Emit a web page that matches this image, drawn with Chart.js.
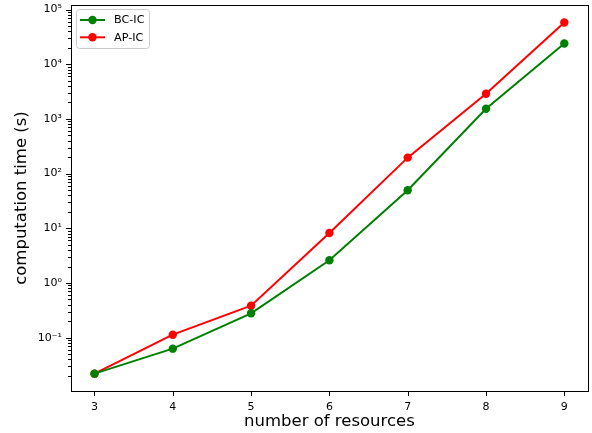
<!DOCTYPE html>
<html>
<head>
<meta charset="utf-8">
<script src="https://cdn.jsdelivr.net/npm/chart.js@4"></script>
<style>
    html, body { margin: 0; padding: 0; background: #fff; }
    #wrap { width: 592px; height: 433px; }
</style>
</head>
<body>
<div id="wrap"><canvas id="timeChart"></canvas></div>
<script>
// Computation time vs number of resources (log scale)

const resources = [3, 4, 5, 6, 7, 8, 9];
const bcIcTimes = [0.022, 0.063, 0.279, 2.6, 49.5, 1530, 23900];
const apIcTimes = [0.022, 0.1135, 0.385, 8.2, 196, 2880, 58000];

const xTicks = [3, 4, 5, 6, 7, 8, 9];
const yTicks = [0.1, 1, 10, 100, 1000, 10000, 100000];
const yTickLabels = ['10\u207B\u00B9', '10\u2070', '10\u00B9', '10\u00B2', '10\u00B3', '10\u2074', '10\u2075'];

const FONT = "'DejaVu Sans', sans-serif";

// frame, tick marks and legend drawn the matplotlib way
const framePlugin = {
    id: 'frame',
    afterDraw(chart) {
        const ctx = chart.ctx;
        const area = chart.chartArea;
        const xs = chart.scales.x;
        const ys = chart.scales.y;
        ctx.save();
        ctx.strokeStyle = '#000';
        ctx.lineWidth = 1;

        // major x ticks
        xTicks.forEach(v => {
            const px = Math.round(xs.getPixelForValue(v)) + 0.5;
            ctx.beginPath();
            ctx.moveTo(px, area.bottom);
            ctx.lineTo(px, area.bottom + 5);
            ctx.stroke();
        });

        // major + minor y ticks
        for (let e = -2; e <= 5; e++) {
            for (let k = 1; k <= 9; k++) {
                const v = k * Math.pow(10, e);
                if (v < ys.min || v > ys.max) continue;
                const py = Math.round(ys.getPixelForValue(v)) + 0.5;
                ctx.beginPath();
                ctx.moveTo(area.left, py);
                ctx.lineTo(area.left - (k === 1 ? 5 : 3), py);
                ctx.stroke();
            }
        }

        // frame
        ctx.strokeRect(Math.round(area.left) + 0.5, Math.round(area.top) + 0.5,
            Math.round(area.right - area.left), Math.round(area.bottom - area.top));

        // legend box
        const lx = area.left + 5.5, ly = area.top + 4.5, lw = 73, lh = 39;
        ctx.fillStyle = 'rgba(255,255,255,0.8)';
        ctx.strokeStyle = '#cccccc';
        ctx.beginPath();
        ctx.roundRect(lx, ly, lw, lh, 3);
        ctx.fill();
        ctx.stroke();

        chart.data.datasets.forEach((ds, i) => {
            const cy = ly + 10.5 + i * 17.3;
            ctx.strokeStyle = ds.borderColor;
            ctx.lineWidth = 2;
            ctx.beginPath();
            ctx.moveTo(lx + 3.5, cy);
            ctx.lineTo(lx + 28.5, cy);
            ctx.stroke();
            ctx.fillStyle = ds.borderColor;
            ctx.beginPath();
            ctx.arc(lx + 16, cy, 4.2, 0, Math.PI * 2);
            ctx.fill();
            ctx.fillStyle = '#000';
            ctx.font = '11.2px ' + FONT;
            ctx.textBaseline = 'middle';
            ctx.fillText(ds.label, lx + 37.5, cy + 0.5);
        });
        ctx.restore();
    }
};

function createTimeChart() {
    const ctx = document.getElementById('timeChart');
    if (!ctx) return;

    new Chart(ctx, {
        type: 'line',
        data: {
            datasets: [
                {
                    label: 'BC-IC',
                    data: resources.map((r, i) => ({ x: r, y: bcIcTimes[i] })),
                    borderColor: '#008000',
                    backgroundColor: '#008000',
                    borderWidth: 2,
                    pointRadius: 4.2,
                    pointBorderWidth: 0,
                    tension: 0
                },
                {
                    label: 'AP-IC',
                    data: resources.map((r, i) => ({ x: r, y: apIcTimes[i] })),
                    borderColor: '#ff0000',
                    backgroundColor: '#ff0000',
                    borderWidth: 2,
                    pointRadius: 4.2,
                    pointBorderWidth: 0,
                    tension: 0
                }
            ]
        },
        options: {
            responsive: true,
            maintainAspectRatio: false,
            animation: false,
            layout: { padding: { left: 0, right: 3, top: 5, bottom: 0 } },
            plugins: {
                legend: { display: false },
                tooltip: { enabled: false }
            },
            scales: {
                x: {
                    type: 'linear',
                    min: 2.7,
                    max: 9.3,
                    afterBuildTicks: (axis) => { axis.ticks = xTicks.map(v => ({ value: v })); },
                    afterFit: (axis) => { axis.height = 42; axis.paddingLeft = 0; axis.paddingRight = 0; },
                    grid: { display: false, drawTicks: false },
                    border: { display: false },
                    ticks: {
                        padding: 10,
                        color: '#000',
                        font: { family: FONT, size: 11 },
                        maxRotation: 0,
                        callback: (v) => String(v)
                    },
                    title: {
                        display: true,
                        text: 'number of resources',
                        color: '#000',
                        font: { family: FONT, size: 16.5 },
                        padding: { top: 2, bottom: 1 }
                    }
                },
                y: {
                    type: 'logarithmic',
                    min: 0.0106,
                    max: 121000,
                    afterBuildTicks: (axis) => { axis.ticks = yTicks.map(v => ({ value: v })); },
                    afterFit: (axis) => { axis.width = 71; axis.paddingTop = 0; axis.paddingBottom = 0; },
                    grid: { display: false, drawTicks: false },
                    border: { display: false },
                    ticks: {
                        padding: 9,
                        color: '#000',
                        font: { family: FONT, size: 11 },
                        callback: (v) => {
                            const i = yTicks.indexOf(v);
                            return i >= 0 ? yTickLabels[i] : '';
                        }
                    },
                    title: {
                        display: true,
                        text: 'computation time (s)',
                        color: '#000',
                        font: { family: FONT, size: 16.5 },
                        padding: { top: 12, bottom: 0 }
                    }
                }
            }
        },
        plugins: [framePlugin]
    });
}

document.addEventListener('DOMContentLoaded', () => {
    createTimeChart();
});
</script>
</body>
</html>
